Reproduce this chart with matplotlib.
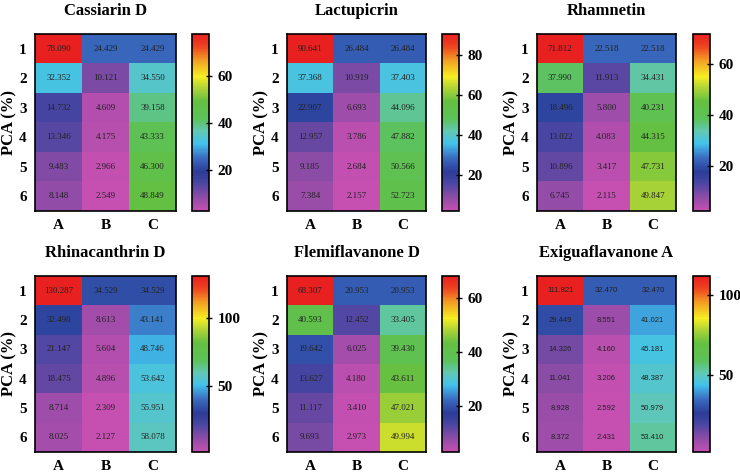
import matplotlib
matplotlib.use("Agg")
import matplotlib.pyplot as plt
from matplotlib.colors import LinearSegmentedColormap
import numpy as np

# datos
titles = ["Cassiarin D", "Lactupicrin", "Rhamnetin",
          "Rhinacanthrin D", "Flemiflavanone D", "Exiguaflavanone A"]
rows = ["1", "2", "3", "4", "5", "6"]
cols = ["A", "B", "C"]

cassiarin = [[78.090, 24.429, 24.429], [32.352, 10.121, 34.550], [14.732, 4.609, 39.158],
             [13.346, 4.175, 43.333], [9.483, 2.966, 46.300], [8.148, 2.549, 48.849]]
lactupicrin = [[90.641, 26.484, 26.484], [37.368, 10.919, 37.403], [22.907, 6.693, 44.096],
               [12.957, 3.786, 47.882], [9.185, 2.684, 50.566], [7.384, 2.157, 52.723]]
rhamnetin = [[71.812, 22.518, 22.518], [37.990, 11.913, 34.431], [18.496, 5.800, 40.231],
             [13.022, 4.083, 44.315], [10.896, 3.417, 47.731], [6.745, 2.115, 49.847]]
rhinacanthrin = [[130.287, 34.529, 34.529], [32.498, 8.613, 43.141], [21.147, 5.604, 48.746],
                 [18.475, 4.896, 53.642], [8.714, 2.309, 55.951], [8.025, 2.127, 58.078]]
flemiflavanone = [[68.307, 20.953, 20.953], [40.593, 12.452, 33.405], [19.642, 6.025, 39.430],
                  [13.627, 4.180, 43.611], [11.117, 3.410, 47.021], [9.693, 2.973, 49.994]]
exiguaflavanone = [[111.821, 32.470, 32.470], [29.449, 8.551, 41.021], [14.326, 4.160, 45.181],
                   [11.041, 3.206, 48.387], [8.928, 2.592, 50.979], [8.372, 2.431, 53.410]]

datos = [cassiarin, lactupicrin, rhamnetin, rhinacanthrin, flemiflavanone, exiguaflavanone]
cbar_ticks = [[20, 40, 60], [20, 40, 60, 80], [20, 40, 60],
              [50, 100], [20, 40, 60], [50, 100]]

colores = [(0.00, "#c650b2"), (0.08, "#8a4ca6"), (0.16, "#4646a2"), (0.22, "#2c3c98"),
           (0.30, "#3a6cc0"), (0.38, "#42c2ec"), (0.45, "#62c8b4"), (0.52, "#5cc25a"),
           (0.62, "#64c040"), (0.70, "#b4d636"), (0.76, "#f6ee22"), (0.85, "#f2a024"),
           (0.93, "#ee4420"), (1.00, "#e82020")]
cmap = LinearSegmentedColormap.from_list("pca", colores)

serif = "Liberation Serif"

fig = plt.figure(figsize=(7.4, 4.72), dpi=100)
W, H = 740, 472

# posiciones en pixeles (x0, x1 del mapa, x0 de la barra, y0, y1)
col_x = [(35, 176, 192), (287, 426, 442), (537, 676, 693)]
row_y = [(34, 211), (276, 452)]

for i, (tit, d) in enumerate(zip(titles, datos)):
    r, c = divmod(i, 3)
    hx0, hx1, bx0 = col_x[c]
    y0, y1 = row_y[r]
    ax = fig.add_axes([hx0 / W, 1 - y1 / H, (hx1 - hx0) / W, (y1 - y0) / H])
    cax = fig.add_axes([bx0 / W, 1 - y1 / H, 17 / W, (y1 - y0) / H])

    arr = np.array(d)
    im = ax.imshow(arr, cmap=cmap, aspect="auto", vmin=arr.min(), vmax=arr.max(),
                   interpolation="nearest")
    for (yy, xx), v in np.ndenumerate(arr):
        if i == 5:
            ax.text(xx, yy, f"{v:.3f}", ha="center", va="center", fontsize=5.5,
                    family="Liberation Sans", color="#222222")
        else:
            ax.text(xx, yy, f"{v:.3f}", ha="center", va="center", fontsize=6.5,
                    family=serif, color="#222222")

    ax.set_xticks(range(3))
    ax.set_xticklabels(cols)
    ax.set_yticks(range(6))
    ax.set_yticklabels(rows)
    ax.tick_params(length=0, pad=6)
    for lab in ax.get_xticklabels() + ax.get_yticklabels():
        lab.set_fontfamily(serif)
        lab.set_fontweight("bold")
        lab.set_fontsize(11)
    ax.set_ylabel("PCA (%)", fontfamily=serif, fontweight="bold", fontsize=12, labelpad=1)
    ax.set_title(tit, fontfamily=serif, fontweight="bold", fontsize=12, pad=14)
    for s in ax.spines.values():
        s.set_linewidth(1.2)

    cb = fig.colorbar(im, cax=cax)
    cb.set_ticks(cbar_ticks[i])
    cb.ax.tick_params(direction="inout", length=5, width=1, labelsize=11)
    for lab in cb.ax.get_yticklabels():
        lab.set_fontfamily(serif)
        lab.set_fontweight("bold")
    cb.outline.set_linewidth(1.2)

fig.savefig("out.png", dpi=100)
